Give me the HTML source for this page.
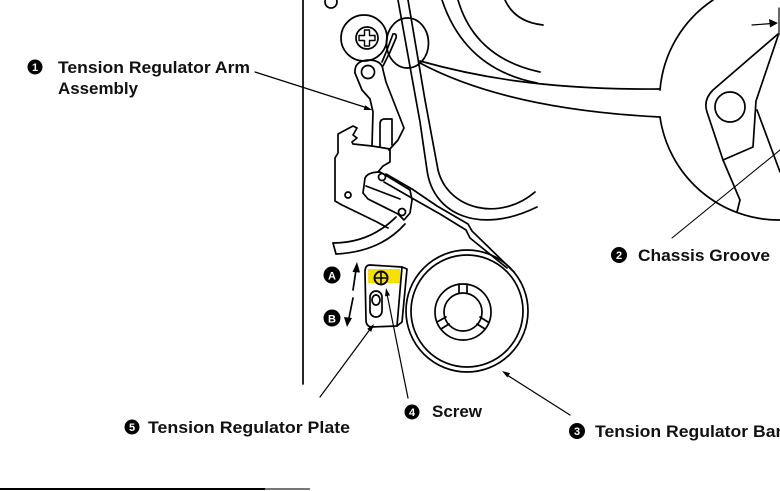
<!DOCTYPE html>
<html>
<head>
<meta charset="utf-8">
<style>
html,body{margin:0;padding:0;background:#fff;}
svg{display:block;}
.lbl{font-family:"Liberation Sans",Arial,sans-serif;font-weight:bold;font-size:17px;fill:#111;}
.num{font-family:"Liberation Sans",Arial,sans-serif;font-weight:bold;font-size:11px;fill:#fff;}
</style>
</head>
<body>
<svg width="780" height="491" viewBox="0 0 780 491" xmlns="http://www.w3.org/2000/svg">
<!-- yellow highlight -->
<rect x="368" y="269" width="32" height="14" fill="#f6e000"/>

<g fill="none" stroke="#000" stroke-width="1.7" stroke-linejoin="round" stroke-linecap="round">
  <!-- left frame line -->
  <path d="M303,0 L303,384"/>
  <!-- small circle top -->
  <circle cx="331" cy="2" r="6"/>
  <!-- screw washer + head -->
  <circle cx="364" cy="38" r="23"/>
  <circle cx="367" cy="38" r="11"/>
  <path d="M364.5,30 h5 v5.5 h5.5 v5 h-5.5 v5.5 h-5 v-5.5 h-5.5 v-5 h5.5 z" stroke-width="1.4"/>
  <!-- second circle -->
  <ellipse cx="407.5" cy="43" rx="21" ry="25"/>

  <!-- near-vertical guide lines with U curve -->
  <path d="M398,0 L420,122 L427,170 C433,215 480,235 537,207"/>
  <path d="M408,0 L425,100 L438,170 C448,210 500,222 535,192"/>

  <!-- top arcs -->
  <path d="M442,0 Q465,69 537,83"/>
  <path d="M458,0 Q475,58 540,72"/>
  <path d="M505,0 Q515,22 543,25"/>

  <!-- long lines to big circle -->
  <path d="M420,61 C470,75 540,90 660,89"/>
  <path d="M420,63 C480,95 560,112 660,117"/>

  <!-- big circle arcs -->
  <path d="M713,0 A120,120 0 0 0 660,90"/>
  <path d="M660,117 A120,120 0 0 0 780,220"/>

  <!-- lever right -->
  <path d="M778,34 L713,90 Q703,100 707,112 L723,160 L753,147 L756,101 L778,36"/>
  <path d="M723,160 L740,200 L737,212"/>
  <path d="M757,110 L780,172"/>
  <circle cx="730" cy="107" r="15"/>
  <path d="M752,25 L772,23.5" stroke-width="1.2"/>
  <path d="M779,8 L779,35" stroke-width="1.2"/>

  <!-- chassis groove leader -->
  <path d="M672,238 L780,150" stroke-width="1.1"/>

  <!-- arm assembly upper -->
  <path d="M355,73 Q354,61 368,60 Q382,60 383,70 L386,82 L404,128 L398,140 L389,150"/>
  <path d="M355,73 L362,90 L370,99 L373,112 L372,146"/>
  <circle cx="368" cy="72" r="6.5"/>
  <path d="M380,147 L380,124 Q380,119 385,119 L392,119 L392,145"/>
  <path d="M383,66 L390,52 L396,38 Q397,33 393,34 L387,50 L382,62"/>

  <!-- bracket -->
  <path d="M390,153 L390,149 L372,146 L353,144 L352,142 L357,138 L353,135 L357,128 L353,126 L338,134 L338,153 L335,158 L335,201 L342,205 L377,222 L388,228"/>
  <path d="M390,153 L390,162 L383,166 L378,172"/>
  <circle cx="348" cy="195" r="3"/>
  <!-- inner piece -->
  <path d="M365,178 Q368,172 380,172 L387,176 L410,190 L412,200 L410,213 L404,220 L398,214 L368,199 L363,193 Z"/>
  <path d="M366,186 L400,199"/>
  <circle cx="382" cy="177" r="3.5"/>
  <circle cx="402" cy="212" r="3.5"/>

  <!-- bar / band -->
  <path d="M386,174 L412,189 L437,206 L468,224 L472,231 L514,272"/>
  <path d="M384,182 L410,197 L440,214 L466,230 L470,238 L507,268"/>

  <!-- crescent -->
  <path d="M333,243 Q370,243 396,217"/>
  <path d="M336,254 Q380,252 405,224"/>
  <path d="M333,243 L336,254"/>

  <!-- roller -->
  <circle cx="467" cy="311" r="56"/>
  <circle cx="467" cy="311" r="61"/>
  <circle cx="463" cy="312" r="28"/>
  <circle cx="463" cy="312" r="19"/>
  <path d="M459,284 L459,293 M467,284 L467,293"/>
  <path d="M437,322 L446,317 M441,329 L449,324"/>
  <path d="M480,317 L488,322 M477,324 L485,329"/>

  <!-- plate -->
  <path d="M370,265 L402,267 L397,326 L371,327 Q366,326 366,320 L365,272 Q365,265 370,265 Z"/>
  <path d="M402,267 L407,269 L402,322 L397,326"/>
  <circle cx="381" cy="278" r="6.5" stroke-width="1.9"/>
  <path d="M376,278 L386,278 M381,273 L381,283" stroke-width="1.6"/>
  <rect x="370" y="291" width="12" height="26" rx="6"/>
  <ellipse cx="376" cy="300" rx="4" ry="5"/>

  <!-- A/B arrows shafts -->
  <path d="M353,290 L356,270"/>
  <path d="M353,298 L349,318"/>

  <!-- leaders -->
  <path d="M255,72 L366,107.5" stroke-width="1.2"/>
  <path d="M320,397 L371,328" stroke-width="1.2"/>
  <path d="M408,398 L387,294" stroke-width="1.2"/>
  <path d="M570,415 L507,375" stroke-width="1.2"/>

  <!-- bottom rule -->
  <path d="M0,489 L265,489" stroke-width="2" stroke-linecap="butt"/>
  <path d="M265,489 L310,489" stroke="#777" stroke-width="2" stroke-linecap="butt"/>
</g>

<!-- arrowheads -->
<g fill="#000">
  <polygon points="778,23 769,19 770,27.5"/>
  <polygon points="357,262 352.5,272 360,272.5"/>
  <polygon points="347,327 344,317 352,318"/>
  <polygon points="372,110 363.6,110 365.2,105.2"/>
  <polygon points="374,324 371.2,331.9 367.2,328.9"/>
  <polygon points="386,288 390,295.4 385,296.4"/>
  <polygon points="502,371 510,373.2 507.3,377.4"/>
</g>

<!-- A / B markers -->
<circle cx="332" cy="275" r="8.5" fill="#000"/>
<text x="332" y="279.5" text-anchor="middle" class="num">A</text>
<circle cx="332" cy="318" r="8.5" fill="#000"/>
<text x="332" y="322.5" text-anchor="middle" class="num">B</text>

<!-- Labels -->
<circle cx="35" cy="67" r="7.5" fill="#000"/>
<text x="35" y="71" text-anchor="middle" class="num">1</text>
<text x="58" y="73" class="lbl" textLength="192" lengthAdjust="spacingAndGlyphs">Tension Regulator Arm</text>
<text x="58" y="94" class="lbl" textLength="80" lengthAdjust="spacingAndGlyphs">Assembly</text>

<circle cx="619" cy="255" r="8" fill="#000"/>
<text x="619" y="259" text-anchor="middle" class="num">2</text>
<text x="638" y="261" class="lbl" textLength="132" lengthAdjust="spacingAndGlyphs">Chassis Groove</text>

<circle cx="577" cy="431" r="8" fill="#000"/>
<text x="577" y="435" text-anchor="middle" class="num">3</text>
<text x="595" y="437" class="lbl" textLength="202" lengthAdjust="spacingAndGlyphs">Tension Regulator Band</text>

<circle cx="412" cy="412" r="7.5" fill="#000"/>
<text x="412" y="416" text-anchor="middle" class="num">4</text>
<text x="432" y="417" class="lbl" textLength="50" lengthAdjust="spacingAndGlyphs">Screw</text>

<circle cx="132" cy="427" r="7.5" fill="#000"/>
<text x="132" y="431" text-anchor="middle" class="num">5</text>
<text x="148" y="433" class="lbl" textLength="202" lengthAdjust="spacingAndGlyphs">Tension Regulator Plate</text>
</svg>
</body>
</html>
